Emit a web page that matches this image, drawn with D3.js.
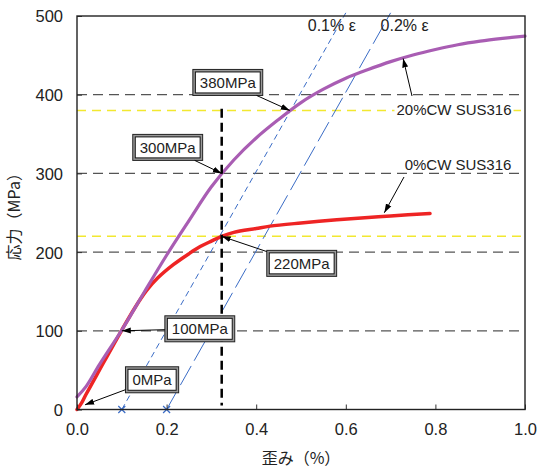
<!DOCTYPE html>
<html>
<head>
<meta charset="utf-8">
<script src="https://cdn.jsdelivr.net/npm/d3@7"></script>
<style>
  body { margin: 0; background: #fff; }
  svg { display: block; }
  text { font-family: "Liberation Sans", Arial, "Noto Sans CJK JP", sans-serif; fill: #222; }
</style>
</head>
<body>
<svg id="chart" width="537" height="474"></svg>
<script>
// 応力-歪み曲線 (SUS316, 0%CW / 20%CW) と 0.1% / 0.2% オフセット線

// 軸目盛
const strainTicks = [0, 0.2, 0.4, 0.6, 0.8, 1.0];
const stressTicks = [0, 100, 200, 300, 400, 500];
const gridStress = [100, 200, 300, 400];

// 20%CW SUS316
const cw20Strain = [0, 0.02, 0.05, 0.1, 0.15, 0.2, 0.25, 0.3, 0.35, 0.4, 0.45, 0.5, 0.55, 0.6, 0.65, 0.7, 0.75, 0.8, 0.85, 0.9, 0.95, 1.0];
const cw20Stress = [16, 29, 57, 101, 149, 196, 240, 283, 317, 345, 368.5, 390, 407, 421, 432, 442, 450.5, 457.5, 463.5, 468, 471.5, 474.5];

// 0%CW SUS316
const cw0Strain = [0, 0.01, 0.02, 0.05, 0.1, 0.13, 0.155, 0.18, 0.215, 0.25, 0.275, 0.3, 0.323, 0.35, 0.4, 0.431, 0.5, 0.58, 0.65, 0.7, 0.788];
const cw0Stress = [0, 8, 19, 50, 101, 130, 151, 167, 184, 198, 207, 214, 220, 225, 230, 233, 237, 241, 244, 246, 249];

// オフセット線 (0.1% ε, 0.2% ε)
const offsetStart = [0.1, 0.2];
const offsetEnd = [0.6, 0.7];
const offsetTopStress = 504;
const offsetLabels = ['0.1% ε', '0.2% ε'];

// 耐力の水平線と読み取り位置
const proofStress = [380, 220];
const readStrain = 0.323;
const readTop = 382;
const readBottom = 5;

// 吹き出し
const calloutLabels = ['380MPa', '300MPa', '220MPa', '100MPa', '0MPa'];
const calloutStrain = [0.475, 0.323, 0.323, 0.1, 0.018];
const calloutStress = [380, 300, 220, 100, 6];

// 系列ラベル
const seriesLabels = ['20%CW SUS316', '0%CW SUS316'];
const seriesPointStrain = [0.728, 0.686];
const seriesPointStress = [446, 250];

// ---- レイアウト ----
const margin = { left: 77, top: 16, right: 12, bottom: 64.5 };
const width = 537 - margin.left - margin.right;
const height = 474 - margin.top - margin.bottom;

const svg = d3.select('#chart');
const g = svg.append('g').attr('transform', `translate(${margin.left},${margin.top})`);

const x = d3.scaleLinear().domain([0, 1]).range([0, width]);
const y = d3.scaleLinear().domain([0, 500]).range([height, 0]);

svg.append('defs').append('marker')
    .attr('id', 'arrow')
    .attr('markerUnits', 'userSpaceOnUse')
    .attr('markerWidth', 9).attr('markerHeight', 7)
    .attr('refX', 9).attr('refY', 3.5)
    .attr('orient', 'auto')
    .append('path')
    .attr('d', 'M0,0.5 L9,3.5 L0,6.5 Z')
    .attr('fill', '#000');

// グリッド (灰色破線)
g.selectAll('line.grid')
    .data(gridStress)
    .enter().append('line')
    .attr('class', 'grid')
    .attr('x1', 0).attr('x2', width)
    .attr('y1', d => y(d)).attr('y2', d => y(d))
    .attr('stroke', '#555')
    .attr('stroke-width', 1.2)
    .attr('stroke-dasharray', '10,6');

// 耐力線 (黄色破線)
g.selectAll('line.proof')
    .data(proofStress)
    .enter().append('line')
    .attr('class', 'proof')
    .attr('x1', 0).attr('x2', width)
    .attr('y1', d => y(d)).attr('y2', d => y(d))
    .attr('stroke', '#f2e830')
    .attr('stroke-width', 1.5)
    .attr('stroke-dasharray', '9,6');

// オフセット線
const offsetDash = ['6,4', '22,6'];
offsetStart.forEach((s, i) => {
    g.append('line')
        .attr('x1', x(s)).attr('y1', y(0))
        .attr('x2', x(offsetEnd[i])).attr('y2', y(offsetTopStress))
        .attr('stroke', '#3a6cc6')
        .attr('stroke-width', 1)
        .attr('stroke-dasharray', offsetDash[i]);
    // × マーカー
    const cx = x(s), cy = y(0), r = 3.5;
    g.append('path')
        .attr('d', `M${cx - r},${cy - r}L${cx + r},${cy + r}M${cx - r},${cy + r}L${cx + r},${cy - r}`)
        .attr('stroke', '#3a6cc6')
        .attr('stroke-width', 1.2);
});

g.append('text')
    .attr('x', x(offsetEnd[0]) - 14).attr('y', 15)
    .attr('text-anchor', 'middle')
    .attr('font-size', 16)
    .text(offsetLabels[0]);
g.append('text')
    .attr('x', x(offsetEnd[1]) + 14).attr('y', 15)
    .attr('text-anchor', 'middle')
    .attr('font-size', 16)
    .text(offsetLabels[1]);

// 曲線
const line = d3.line()
    .x(d => x(d[0]))
    .y(d => y(d[1]))
    .curve(d3.curveCatmullRom.alpha(0.5));

g.append('path')
    .datum(d3.zip(cw0Strain, cw0Stress))
    .attr('d', line)
    .attr('fill', 'none')
    .attr('stroke', '#ee2424')
    .attr('stroke-width', 3.5)
    .attr('stroke-linecap', 'round');

g.append('path')
    .datum(d3.zip(cw20Strain, cw20Stress))
    .attr('d', line)
    .attr('fill', 'none')
    .attr('stroke', '#a95db3')
    .attr('stroke-width', 3.2)
    .attr('stroke-linecap', 'round');

// 読み取り線 (黒太破線)
g.append('line')
    .attr('x1', x(readStrain)).attr('x2', x(readStrain))
    .attr('y1', y(readTop)).attr('y2', y(readBottom))
    .attr('stroke', '#000')
    .attr('stroke-width', 2.5)
    .attr('stroke-dasharray', '9,5');

// 軸
const xAxis = d3.axisBottom(x).tickValues(strainTicks).tickFormat(d3.format('.1f'))
    .tickSizeInner(-5).tickSizeOuter(0).tickPadding(14);
const yAxis = d3.axisLeft(y).tickValues(stressTicks)
    .tickSizeInner(-5).tickSizeOuter(0).tickPadding(14);

const gx = g.append('g').attr('transform', `translate(0,${height})`).call(xAxis);
const gy = g.append('g').call(yAxis);
[gx, gy].forEach(a => {
    a.select('.domain').remove();
    a.selectAll('.tick line').attr('stroke', '#333');
    a.selectAll('.tick text').attr('font-size', 16.5).attr('fill', '#222')
        .attr('font-family', '"Liberation Sans", Arial, sans-serif');
});
gy.selectAll('.tick text').attr('dy', '0.36em');

// 枠
g.append('rect')
    .attr('width', width).attr('height', height)
    .attr('fill', 'none')
    .attr('stroke', '#222')
    .attr('stroke-width', 1.4);

// 軸ラベル
g.append('text')
    .attr('transform', `translate(-57,${height / 2}) rotate(-90)`)
    .attr('text-anchor', 'middle')
    .attr('font-size', 16)
    .style('font-family', '"Noto Sans CJK JP", sans-serif')
    .style('fill', '#222')
    .text('応力（MPa）');
g.append('text')
    .attr('x', width / 2).attr('y', height + 54)
    .attr('text-anchor', 'middle')
    .attr('font-size', 16)
    .style('font-family', '"Noto Sans CJK JP", sans-serif')
    .style('fill', '#222')
    .text('歪み（%）');

// 系列ラベル
const seriesTextPos = [[377, 99], [381, 154]];
const seriesArrowFrom = [[335, 80], [327, 161]];
seriesLabels.forEach((lab, i) => {
    const t = g.append('text')
        .attr('x', seriesTextPos[i][0]).attr('y', seriesTextPos[i][1])
        .attr('text-anchor', 'middle')
        .attr('font-size', 15)
        .text(lab);
    const bb = t.node().getBBox();
    g.insert('rect', () => t.node())
        .attr('x', bb.x - 2).attr('y', bb.y + 2)
        .attr('width', bb.width + 4).attr('height', bb.height - 4)
        .attr('fill', '#fff');
    g.append('line')
        .attr('x1', seriesArrowFrom[i][0]).attr('y1', seriesArrowFrom[i][1])
        .attr('x2', x(seriesPointStrain[i])).attr('y2', y(seriesPointStress[i]))
        .attr('stroke', '#000').attr('stroke-width', 1)
        .attr('marker-end', 'url(#arrow)');
});

// 吹き出し
const calloutOffset = [[-62, -28], [-54, -26], [80, 27], [78, -2], [67, -25]];
calloutLabels.forEach((lab, i) => {
    const tx = x(calloutStrain[i]), ty = y(calloutStress[i]);
    const cx = tx + calloutOffset[i][0], cy = ty + calloutOffset[i][1];
    const box = g.append('g');
    const outer = box.append('rect');
    const inner = box.append('rect');
    const t = box.append('text')
        .attr('x', cx).attr('y', cy)
        .attr('dy', '0.35em')
        .attr('text-anchor', 'middle')
        .attr('font-size', 15)
        .text(lab);
    const w = t.node().getComputedTextLength() + 14;
    const h = 26;
    outer.attr('x', cx - w / 2).attr('y', cy - h / 2)
        .attr('width', w).attr('height', h)
        .attr('fill', '#9a9a9a').attr('stroke', '#222').attr('stroke-width', 1);
    inner.attr('x', cx - w / 2 + 2.5).attr('y', cy - h / 2 + 2.5)
        .attr('width', w - 5).attr('height', h - 5)
        .attr('fill', '#fff').attr('stroke', '#111').attr('stroke-width', 1);
    // 矢印の始点 = 中心→目標線と枠の交点
    const dx = tx - cx, dy = ty - cy;
    const s = Math.min(Math.abs((w / 2) / dx) || Infinity, Math.abs((h / 2) / dy) || Infinity);
    g.append('line')
        .attr('x1', cx + dx * s).attr('y1', cy + dy * s)
        .attr('x2', tx).attr('y2', ty)
        .attr('stroke', '#000').attr('stroke-width', 1)
        .attr('marker-end', 'url(#arrow)');
});
</script>
</body>
</html>
